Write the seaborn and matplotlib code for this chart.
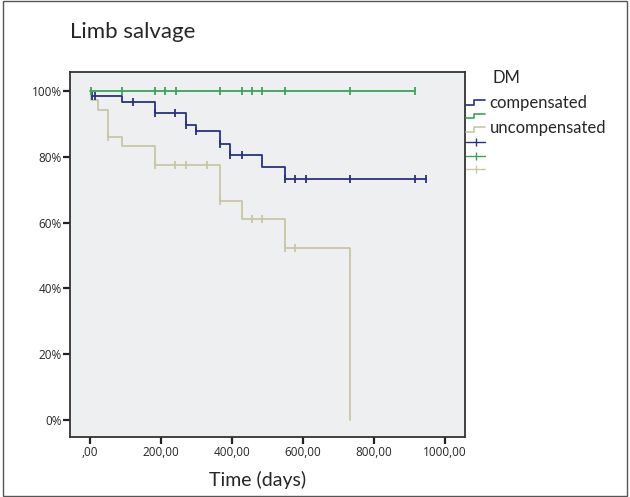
"""Kaplan-Meier style limb salvage curves by DM status."""
import matplotlib
matplotlib.use("Agg")
import matplotlib.pyplot as plt
from matplotlib.legend_handler import HandlerBase
from matplotlib.lines import Line2D
from matplotlib.patches import Rectangle
from matplotlib.ticker import FuncFormatter, PercentFormatter
import pandas as pd
import seaborn as sns

# step curves (time in days, cumulative limb salvage as a fraction)
comp_t = [0, 3, 91, 183, 270, 300, 366, 396, 486, 549, 946]
comp_s = [1.0, 0.985, 0.967, 0.934, 0.896, 0.878, 0.839, 0.805, 0.770, 0.732, 0.732]
nocomp_t = [0, 915]
nocomp_s = [1.0, 1.0]
uncomp_t = [0, 3, 22, 52, 91, 183, 366, 427, 549, 732]
uncomp_s = [1.0, 0.972, 0.944, 0.861, 0.833, 0.775, 0.667, 0.610, 0.523, 0.0]

# censored observations
comp_cens_t = [6, 14, 122, 183, 241, 270, 300, 366, 396, 427, 549, 577, 608, 732, 915, 946]
comp_cens_s = [0.985, 0.985, 0.967, 0.934, 0.934, 0.896, 0.878, 0.839, 0.805, 0.805,
               0.732, 0.732, 0.732, 0.732, 0.732, 0.732]
nocomp_cens_t = [2, 91, 183, 211, 242, 366, 427, 457, 486, 549, 732, 915]
nocomp_cens_s = [1.0] * 12
uncomp_cens_t = [52, 183, 241, 270, 331, 366, 457, 486, 549, 577]
uncomp_cens_s = [0.861, 0.775, 0.775, 0.775, 0.775, 0.667, 0.610, 0.610, 0.523, 0.523]

groups = ["compensated", "none", "uncompensated"]
colors = {"compensated": "#27327e", "none": "#3aa35a", "uncompensated": "#c9c7a3"}
x_ticks = [0, 200, 400, 600, 800, 1000]

curves = pd.concat([
    pd.DataFrame({"group": "compensated", "time": comp_t, "surv": comp_s}),
    pd.DataFrame({"group": "none", "time": nocomp_t, "surv": nocomp_s}),
    pd.DataFrame({"group": "uncompensated", "time": uncomp_t, "surv": uncomp_s}),
])
censored = pd.concat([
    pd.DataFrame({"group": "compensated", "time": comp_cens_t, "surv": comp_cens_s}),
    pd.DataFrame({"group": "none", "time": nocomp_cens_t, "surv": nocomp_cens_s}),
    pd.DataFrame({"group": "uncompensated", "time": uncomp_cens_t, "surv": uncomp_cens_s}),
])

sns.set_theme(style="white")
plt.rcParams["font.family"] = ["Lato", "DejaVu Sans"]


class StepHandler(HandlerBase):
    def create_artists(self, legend, orig, xd, yd, width, height, fontsize, trans):
        xs = [xd, xd + width * 0.4, xd + width * 0.4, xd + width]
        ys = [yd + height * 0.2, yd + height * 0.2, yd + height * 0.8, yd + height * 0.8]
        ln = Line2D(xs, ys, color=orig.get_color(), lw=1.2, transform=trans)
        return [ln]


fig = plt.figure(figsize=(6.3, 4.97), dpi=100)
ax = fig.add_axes([0.111, 0.12, 0.627, 0.735])
ax.set_facecolor("#eeeff1")

sns.lineplot(data=curves, x="time", y="surv", hue="group", hue_order=groups,
             palette=colors, estimator=None, sort=True, drawstyle="steps-post",
             linewidth=1.3, legend=False, ax=ax)
for g in groups:
    sub = censored[censored["group"] == g]
    ax.scatter(sub["time"], sub["surv"], marker="|", s=40, linewidths=1.3,
               color=colors[g], zorder=3)

ax.set_xlim(-56, 1056)
ax.set_ylim(-0.053, 1.058)
ax.set_xticks(x_ticks)
ax.xaxis.set_major_formatter(FuncFormatter(lambda v, _: ",00" if v == 0 else f"{v:.0f},00"))
ax.yaxis.set_major_formatter(PercentFormatter(1.0, decimals=0))
ax.tick_params(axis="both", direction="out", length=5, width=1.6, color="#222222",
               labelsize=8.5, pad=1, left=True, bottom=True)
for lab in ax.get_xticklabels() + ax.get_yticklabels():
    lab.set_family(["Open Sans", "DejaVu Sans"])
for sp in ax.spines.values():
    sp.set_color("#333333")
    sp.set_linewidth(1.3)

ax.set_xlabel("Time (days)", fontsize=14, labelpad=4)
ax.xaxis.set_label_coords(0.475, -0.092)
ax.set_ylabel("")
fig.text(0.111, 0.935, "Limb salvage", fontsize=16, ha="left", va="center")

# legend: glyphs only, texts placed separately as in the original
handles = [Line2D([], [], color=colors["compensated"]),
           Line2D([], [], color=colors["none"]),
           Line2D([], [], color=colors["uncompensated"]),
           Line2D([], [], color=colors["compensated"], marker="|", markersize=6, lw=1),
           Line2D([], [], color=colors["none"], marker="|", markersize=6, lw=1),
           Line2D([], [], color=colors["uncompensated"], marker="|", markersize=6, lw=1)]
hmap = {h: StepHandler() for h in handles[:3]}
leg = ax.legend(handles, [""] * 6, handler_map=hmap, loc="upper left",
                bbox_to_anchor=(1.003, 0.93), frameon=False, fontsize=8,
                handlelength=1.7, handletextpad=0, labelspacing=0.2,
                borderaxespad=0, borderpad=0)
fig.text(0.781, 0.843, "DM", fontsize=12, va="center")
fig.text(0.777, 0.793, "compensated", fontsize=12, va="center")
fig.text(0.777, 0.742, "uncompensated", fontsize=12, va="center")

fig.patches.append(Rectangle((0.004, 0.002), 0.992, 0.996, transform=fig.transFigure,
                             fill=False, edgecolor="#555555", linewidth=1.0))

fig.savefig("out.png", dpi=100)
